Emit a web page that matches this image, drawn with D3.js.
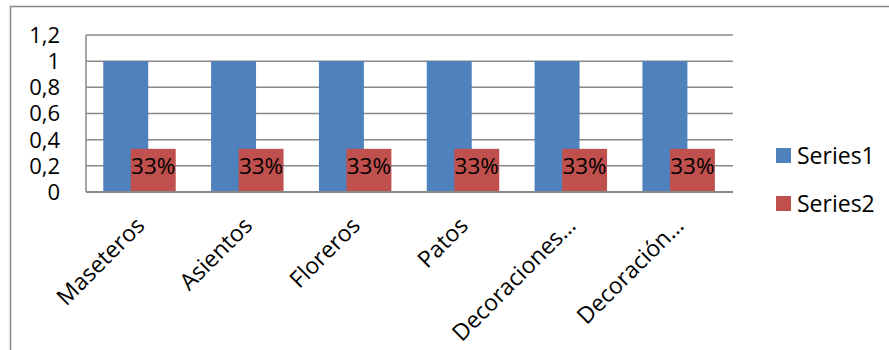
<!DOCTYPE html>
<html>
<head>
<meta charset="utf-8">
<script src="https://cdn.jsdelivr.net/npm/d3@7"></script>
<style>
  html, body { margin: 0; padding: 0; background: #fff; }
  svg { display: block; font-family: "Open Sans", "DejaVu Sans", sans-serif; }
</style>
</head>
<body>
<svg id="chart" width="889" height="350"></svg>
<script>
// Categories and series values
const categories = ["Maseteros", "Asientos", "Floreros", "Patos", "Decoraciones\u2026", "Decoraci\u00f3n\u2026"];
const series1 = [1, 1, 1, 1, 1, 1];
const series2 = [0.33, 0.33, 0.33, 0.33, 0.33, 0.33];
const seriesNames = ["Series1", "Series2"];
const yTicks = [0, 0.2, 0.4, 0.6, 0.8, 1, 1.2];

const colors = { Series1: "#4F81BD", Series2: "#C0504D" };
const gridColor = "#888888";

const svg = d3.select("#chart");
const W = 889, H = 350;

// Outer chart-area frame (extends past the right and bottom edges)
svg.append("rect")
  .attr("x", 10.5).attr("y", 6.5)
  .attr("width", W + 20).attr("height", H + 20)
  .attr("fill", "#fff")
  .attr("stroke", gridColor).attr("stroke-width", 1.5);

const plot = { left: 86, right: 733, top: 35, bottom: 192 };

const x = d3.scaleBand().domain(categories).range([plot.left, plot.right]).padding(0);
const y = d3.scaleLinear().domain([0, 1.2]).range([plot.bottom, plot.top]);

const step = x.step();
const barW = step * 0.417;
const off1 = step * 0.160;
const off2 = step * 0.415;

// Horizontal gridlines
svg.append("g").selectAll("line")
  .data(yTicks.filter(t => t > 0))
  .join("line")
  .attr("x1", plot.left).attr("x2", plot.right)
  .attr("y1", d => y(d)).attr("y2", d => y(d))
  .attr("stroke", gridColor).attr("stroke-width", 1.5);

// Y axis labels
const fmtTick = d => d3.format("~g")(d).replace(".", ",");
svg.append("g").selectAll("text")
  .data(yTicks)
  .join("text")
  .attr("x", 60).attr("y", d => y(d))
  .attr("dy", "0.36em")
  .attr("text-anchor", "end")
  .attr("font-size", 22)
  .attr("fill", "#000")
  .text(fmtTick);

// Series1 bars
svg.append("g").selectAll("rect")
  .data(categories.map((c, i) => ({ c, v: series1[i] })))
  .join("rect")
  .attr("x", d => x(d.c) + off1)
  .attr("width", barW)
  .attr("y", d => y(d.v))
  .attr("height", d => y(0) - y(d.v))
  .attr("fill", colors.Series1);

// Series2 bars (overlapping)
const s2 = categories.map((c, i) => ({ c, v: series2[i] }));
svg.append("g").selectAll("rect")
  .data(s2)
  .join("rect")
  .attr("x", d => x(d.c) + off2)
  .attr("width", barW)
  .attr("y", d => y(d.v))
  .attr("height", d => y(0) - y(d.v))
  .attr("fill", colors.Series2);

// Series2 value labels
svg.append("g").selectAll("text")
  .data(s2)
  .join("text")
  .attr("x", d => x(d.c) + off2 + barW / 2)
  .attr("y", d => (y(d.v) + y(0)) / 2 + 3.5)
  .attr("text-anchor", "middle")
  .attr("font-size", 22.5)
  .attr("fill", "#000")
  .text(d => d3.format(".0%")(d.v));

// Axis lines
svg.append("line")
  .attr("x1", plot.left).attr("x2", plot.right)
  .attr("y1", y(0)).attr("y2", y(0))
  .attr("stroke", gridColor).attr("stroke-width", 2);
svg.append("line")
  .attr("x1", plot.left).attr("x2", plot.left)
  .attr("y1", plot.top).attr("y2", y(0))
  .attr("stroke", gridColor).attr("stroke-width", 1.5);

// Rotated category labels
svg.append("g").selectAll("text")
  .data(categories)
  .join("text")
  .attr("transform", d => `translate(${x(d) + step / 2 + 6},${y(0) + 35}) rotate(-45)`)
  .attr("text-anchor", "end")
  .attr("font-size", 23)
  .attr("fill", "#000")
  .text(d => d);

// Legend
const legend = svg.append("g").selectAll("g")
  .data(seriesNames)
  .join("g")
  .attr("transform", (d, i) => `translate(776,${148 + i * 48})`);
legend.append("rect")
  .attr("width", 15).attr("height", 15)
  .attr("fill", d => colors[d]);
legend.append("text")
  .attr("x", 21).attr("y", 15.5)
  .attr("font-size", 23)
  .attr("fill", "#000")
  .text(d => d);
</script>
</body>
</html>
